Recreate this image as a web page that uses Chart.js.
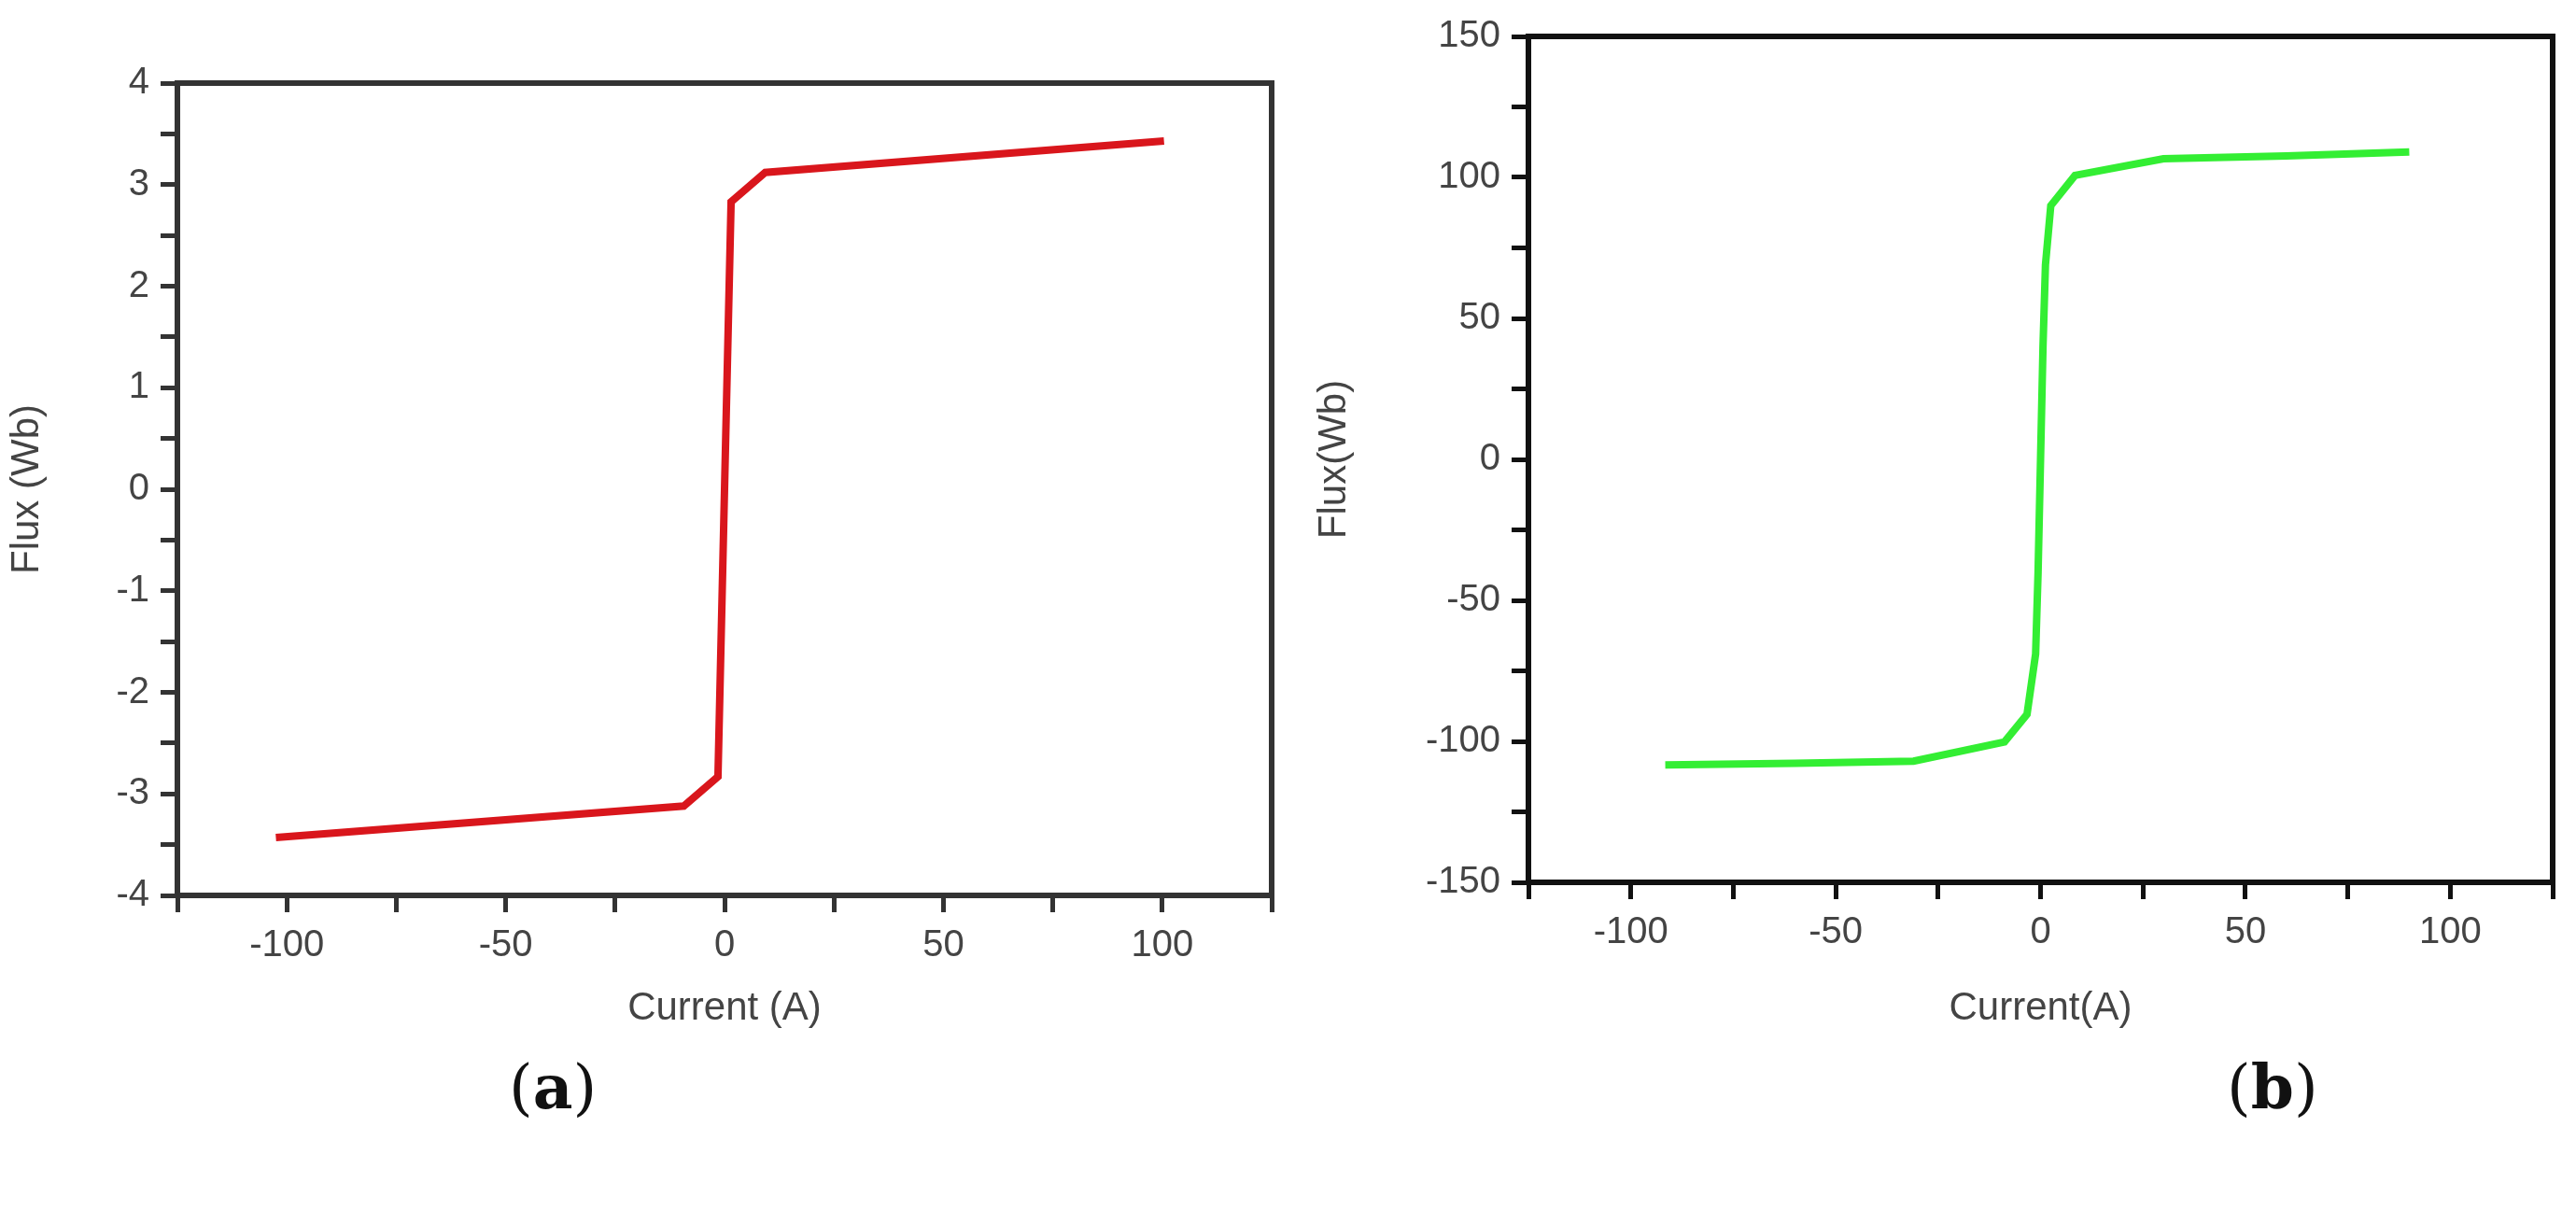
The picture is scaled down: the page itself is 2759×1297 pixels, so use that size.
<!DOCTYPE html>
<html>
<head>
<meta charset="utf-8">
<script src="https://cdn.jsdelivr.net/npm/chart.js@4.4.0/dist/chart.umd.min.js"></script>
<style>
    body { margin: 0; background: #fff; width: 2759px; height: 1297px; position: relative; overflow: hidden; }
    .box { position: absolute; top: 0; height: 1110px; }
    .tag { position: absolute; top: 1125px; font-family: "DejaVu Serif", "Liberation Serif", serif; font-size: 66px; color: #111; }
    .tag b { font-weight: bold; }
</style>
</head>
<body>
<div class="box" style="left:0;width:1410px;"><canvas id="chart-a"></canvas></div>
<div class="box" style="left:1400px;width:1359px;"><canvas id="chart-b"></canvas></div>
<div class="tag" style="left:545px;">(<b>a</b>)</div>
<div class="tag" style="left:2385px;">(<b>b</b>)</div>
<script>
// (a) 電流と磁束
const currentA = [-102.5, -9.3, -1.5, 1.5, 9.3, 100.4];
const fluxA = [-3.43, -3.12, -2.83, 2.83, 3.12, 3.43];

// (b) 電流と磁束
const currentB = [-91.6, -60, -31, -8.8, -3.3, -1.2, -0.6, 0, 0.6, 1.2, 2.5, 8.4, 30, 60, 90];
const fluxB = [-108.4, -107.8, -107, -100.2, -90.4, -69, -40, 0, 40, 69, 90, 100.7, 106.6, 107.6, 109];

const xTicks = [-125, -100, -75, -50, -25, 0, 25, 50, 75, 100, 125];
const xLabels = [-100, -50, 0, 50, 100];
const yTicksA = [-4, -3.5, -3, -2.5, -2, -1.5, -1, -0.5, 0, 0.5, 1, 1.5, 2, 2.5, 3, 3.5, 4];
const yLabelsA = [-4, -3, -2, -1, 0, 1, 2, 3, 4];
const yTicksB = [-150, -125, -100, -75, -50, -25, 0, 25, 50, 75, 100, 125, 150];
const yLabelsB = [-150, -100, -50, 0, 50, 100, 150];

const FONT = { family: '"Liberation Sans", Arial, sans-serif', size: 40 };

// 枠線
const framePlugin = {
    id: 'frame',
    afterDraw(chart) {
        const { ctx, chartArea: a } = chart;
        ctx.save();
        ctx.strokeStyle = chart.options.plugins.frame.color;
        ctx.lineWidth = 6;
        ctx.strokeRect(a.left, a.top, a.right - a.left, a.bottom - a.top);
        ctx.restore();
    }
};

function makeChart(id, xs, ys, color, opts) {
    const points = xs.map((x, i) => ({ x: x, y: ys[i] }));
    return new Chart(document.getElementById(id), {
        type: 'line',
        data: { datasets: [{ data: points, borderColor: color, borderWidth: 8, pointRadius: 0, tension: 0 }] },
        plugins: [framePlugin],
        options: {
            responsive: true,
            maintainAspectRatio: false,
            animation: false,
            layout: { padding: { top: opts.top, right: opts.right, left: 0, bottom: 0 } },
            plugins: { legend: { display: false }, tooltip: { enabled: false }, frame: { color: opts.frame } },
            scales: {
                x: {
                    type: 'linear', min: -125, max: 125,
                    afterBuildTicks: (s) => { s.ticks = xTicks.map(v => ({ value: v })); },
                    afterFit: (s) => { s.height = opts.xHeight; },
                    grid: { drawOnChartArea: false, tickLength: 18, tickWidth: 5, color: opts.frame },
                    border: { display: false },
                    ticks: {
                        autoSkip: false, maxRotation: 0, color: '#444', font: FONT, padding: 12,
                        callback: (v) => xLabels.includes(v) ? String(v) : ''
                    },
                    title: { display: true, text: opts.xTitle, color: '#444', font: { family: FONT.family, size: 42 }, padding: { top: 18 } }
                },
                y: {
                    type: 'linear', min: opts.yMin, max: opts.yMax,
                    afterBuildTicks: (s) => { s.ticks = opts.yTicks.map(v => ({ value: v })); },
                    afterFit: (s) => { s.width = opts.yWidth; },
                    grid: { drawOnChartArea: false, tickLength: 18, tickWidth: 5, color: opts.frame },
                    border: { display: false },
                    ticks: {
                        autoSkip: false, color: '#444', font: FONT, padding: 12,
                        callback: (v) => opts.yLabels.includes(v) ? String(v) : ''
                    },
                    title: { display: true, text: opts.yTitle, color: '#444', font: { family: FONT.family, size: 42 }, padding: { bottom: 6 } }
                }
            }
        }
    });
}

makeChart('chart-a', currentA, fluxA, '#d9161c', {
    top: 89, right: 48, xHeight: 1110 - 959, yWidth: 190,
    yMin: -4, yMax: 4, yTicks: yTicksA, yLabels: yLabelsA,
    xTitle: 'Current (A)', yTitle: 'Flux (Wb)', frame: '#333'
});

makeChart('chart-b', currentB, fluxB, '#33ee33', {
    top: 39, right: 25, xHeight: 1110 - 945, yWidth: 237,
    yMin: -150, yMax: 150, yTicks: yTicksB, yLabels: yLabelsB,
    xTitle: 'Current(A)', yTitle: 'Flux(Wb)', frame: '#111'
});
</script>
</body>
</html>
